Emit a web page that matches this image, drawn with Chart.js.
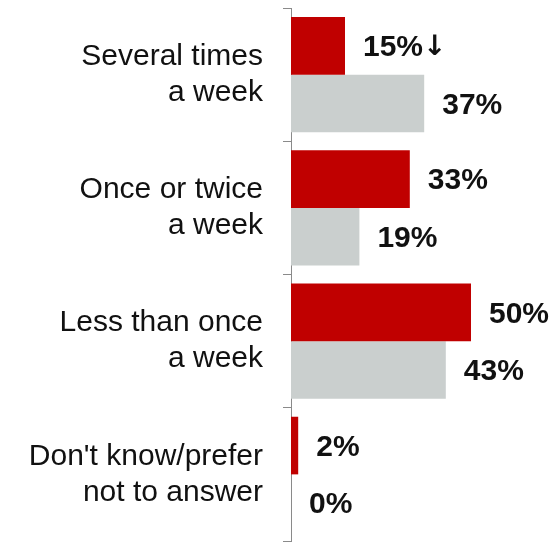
<!DOCTYPE html>
<html>
<head>
<meta charset="utf-8">
<script src="https://cdn.jsdelivr.net/npm/chart.js@4/dist/chart.umd.min.js"></script>
<style>
  html, body { margin: 0; padding: 0; background: #fff; }
  #wrap { width: 558px; height: 542px; }
</style>
</head>
<body>
<div id="wrap"><canvas id="freq-chart" width="558" height="542"></canvas></div>
<script>
// Values
const categories = [
    ['Several times', 'a week'],
    ['Once or twice', 'a week'],
    ['Less than once', 'a week'],
    ['Don\'t know/prefer', 'not to answer']
];
const currentValues = [15, 33, 50, 2];
const previousValues = [37, 19, 43, 0];
// significance marker shown after the red value
const currentMarks = ['\u2193', '', '', ''];

const FONT = '"Liberation Sans", Arial, sans-serif';

// Simple value labels to the right of each bar
const valueLabels = {
    id: 'valueLabels',
    afterDatasetsDraw(chart) {
        const ctx = chart.ctx;
        ctx.save();
        ctx.fillStyle = '#111';
        ctx.textAlign = 'left';
        ctx.textBaseline = 'middle';
        chart.data.datasets.forEach((ds, di) => {
            chart.getDatasetMeta(di).data.forEach((bar, i) => {
                const txt = ds.data[i] + '%';
                ctx.font = 'bold 30px ' + FONT;
                ctx.fillText(txt, bar.x + 18, bar.y + 2);
                if (di === 0 && currentMarks[i]) {
                    const w = ctx.measureText(txt).width;
                    ctx.font = 'bold 28px "DejaVu Sans"';
                    ctx.fillText(currentMarks[i], bar.x + 18 + w, bar.y + 2);
                }
            });
        });
        ctx.restore();
    }
};

const ctx = document.getElementById('freq-chart').getContext('2d');
const myChart = new Chart(ctx, {
    type: 'bar',
    data: {
        labels: categories,
        datasets: [{
            label: 'Current',
            data: currentValues,
            backgroundColor: '#C00000',
            borderWidth: 0
        }, {
            label: 'Previous',
            data: previousValues,
            backgroundColor: '#CACFCE',
            borderWidth: 0
        }]
    },
    options: {
        indexAxis: 'y',
        responsive: false,
        animation: false,
        layout: {
            padding: { top: 8, bottom: 1, left: 0, right: 15 }
        },
        datasets: {
            bar: {
                categoryPercentage: 0.865,
                barPercentage: 1
            }
        },
        plugins: {
            legend: { display: false },
            tooltip: { enabled: false }
        },
        scales: {
            x: {
                display: false,
                min: 0,
                max: 70
            },
            y: {
                afterFit(scale) {
                    scale.width = 291;
                    scale.paddingTop = 0;
                    scale.paddingBottom = 0;
                },
                border: {
                    display: true,
                    color: '#8a8a8a',
                    width: 1
                },
                grid: {
                    drawOnChartArea: false,
                    drawTicks: true,
                    tickLength: 8,
                    color: '#8a8a8a',
                    offset: true
                },
                ticks: {
                    color: '#111',
                    padding: 20,
                    font: {
                        family: FONT,
                        size: 30,
                        lineHeight: 1.2
                    }
                }
            }
        }
    },
    plugins: [valueLabels]
});
</script>
</body>
</html>
